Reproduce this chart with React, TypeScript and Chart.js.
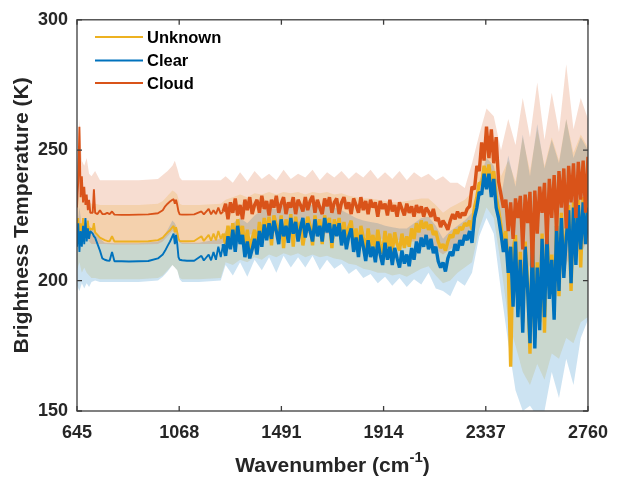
import React, { useEffect, useRef } from "react";
import { Chart, registerables } from "chart.js";

Chart.register(...registerables);

// Wavenumber grid for the mean spectra (cm-1)
const WAVENUMBER = [
  645, 650, 655, 660, 665, 670, 675, 680, 685, 690, 695, 700,
  710, 715, 720,
  730, 740, 750, 760, 770, 780, 790, 800,
  830, 860, 900, 940, 980,
  1000, 1010, 1020, 1030, 1040,
  1045, 1050, 1055, 1060, 1065, 1070,
  1080, 1100, 1130, 1160, 1170, 1190, 1200, 1210, 1220, 1230, 1240,
  1250, 1260, 1270, 1280, 1290, 1300, 1310, 1320, 1330, 1340,
  1350, 1360, 1370, 1380, 1390, 1400, 1410, 1420, 1430, 1440,
  1450, 1460, 1470, 1480, 1490, 1500, 1510, 1520, 1530, 1540,
  1550, 1560, 1570, 1580, 1590, 1600, 1610, 1620, 1630, 1640,
  1650, 1660, 1670, 1680, 1690, 1700, 1710, 1720, 1730, 1740,
  1750, 1760, 1770, 1780, 1790, 1800, 1810, 1820, 1830, 1840,
  1850, 1860, 1870, 1880, 1890, 1900, 1910, 1920, 1930, 1940,
  1950, 1960, 1970, 1980, 1990, 2000, 2010, 2020, 2030, 2040,
  2050, 2060, 2070, 2080, 2090, 2100, 2110, 2120, 2130, 2140,
  2150, 2160, 2170, 2180, 2190, 2200, 2210, 2220, 2230, 2240,
  2250, 2260, 2270, 2280, 2290, 2300, 2310, 2320, 2330, 2340,
  2350, 2360, 2370, 2380, 2390, 2400, 2410, 2420, 2430, 2440,
  2450, 2460, 2470, 2480, 2490, 2500, 2510, 2520, 2530, 2540,
  2550, 2560, 2570, 2580, 2590, 2600, 2610, 2620, 2630, 2640,
  2650, 2660, 2670, 2680, 2690, 2700, 2710, 2720, 2730, 2740,
  2750, 2760,
];

// Mean brightness temperature (K), unknown scenes
const UNKNOWN_MEAN = [
  218, 224, 215, 222, 216, 224, 217, 222, 219, 223, 218, 220,
  219.5, 222, 218.5,
  217.5, 216.5, 216, 215.5, 215.2, 215.1, 217, 215,
  215, 215, 215, 215.1, 215.5,
  216.5, 217.5, 218.5, 219.3, 220.5,
  221, 218.5, 220.5, 218.5, 216, 215.2,
  215.1, 215.1, 215.2, 217, 215.2, 217.5, 215.3, 218, 215.5, 219, 216,
  218, 214, 221, 215.5, 222, 214, 223.5, 217, 221, 212.5,
  219.5, 212, 216, 219.5, 213, 222.5, 216, 224, 218.5, 224.5,
  213.5, 225, 221.5, 217, 225, 212.5, 223.5, 218, 225.5, 213,
  224.5, 218, 222.5, 213.5, 219, 224.5, 221, 213.5, 225, 219,
  223.5, 214, 225, 221, 224, 212.5, 223.5, 219, 224, 215.5,
  222.5, 216, 220.5, 223, 214.5, 220, 212, 221, 216.5, 211.5,
  220, 213, 217.5, 211, 219.5, 214, 210.5, 219, 212.5, 218,
  211, 218.5, 214, 211.5, 218, 212.5, 217, 213, 220, 216,
  222, 218.5, 223, 220, 222.5, 219.5, 221.5, 217.5, 219, 215,
  212.5, 214, 211.5, 215, 217.5, 216.5, 219.5, 218, 220.5, 219.5,
  222, 221, 223, 219.5, 228, 232, 237.5, 237, 244, 239.5,
  244.5, 237, 242, 232, 227, 221, 213.5, 219, 206, 167,
  212, 217.5, 190, 211, 184, 215, 200, 172, 216.5, 178,
  207, 184, 218, 180, 220, 197, 210, 190, 223, 194,
  226, 204, 219, 229, 196, 230, 210, 231, 205, 232,
  217, 230,
];

// Mean brightness temperature (K), clear-sky scenes
const CLEAR_MEAN = [
  213, 222, 211, 219, 213, 221, 214, 224, 215, 220, 216, 219,
  218, 217, 216.5,
  214, 211.5, 208.5, 208, 207.7, 207.6, 211, 207.4,
  207.4, 207.3, 207.4, 207.5, 208.5,
  210, 211.5, 213.3, 215, 217,
  218, 214, 217.5, 214, 209, 208,
  207.8, 207.6, 207.6, 209.5, 207.7, 210, 207.8, 211, 208, 213, 209,
  214, 209.5, 217, 212, 219.5, 211, 221, 214, 217.5, 209,
  215, 208.5, 212, 216, 210, 219, 213, 221.5, 215.5, 222,
  216, 223, 219, 214, 223.5, 217, 221, 214.5, 224, 218,
  222.5, 215, 220, 224, 216.5, 222, 219, 215, 223.5, 217,
  221, 215, 224, 218.5, 222, 214.5, 221.5, 217, 222, 213.5,
  219.5, 212, 217, 220, 211, 216.5, 209, 217.5, 213, 207.5,
  215.5, 209, 213, 207, 215, 210, 206, 214.5, 208, 213,
  206, 212.5, 208.5, 205, 211.5, 206.5, 210, 205.5, 212.5, 208,
  215, 210.5, 216.5, 213, 217.5, 212, 216, 210.5, 213, 207.5,
  205, 207, 203.5, 208.5, 211, 209.5, 214, 211.5, 215.5, 213.5,
  217.5, 215.5, 219, 214.5, 224, 228, 234, 233, 241, 235,
  241, 232, 239, 228, 224, 218, 211, 216, 203, 213,
  190, 215, 186, 208, 180, 213, 197, 176, 214, 174,
  205, 181, 216, 186, 218, 193, 208, 185, 221, 196,
  224, 201, 216, 227, 199, 228, 206, 229, 212, 230,
  214, 228,
];

// Mean brightness temperature (K), cloudy scenes
const CLOUD_MEAN = [
  228, 238, 259, 232, 240, 230, 236, 229, 233, 227, 231, 226,
  226, 235, 226,
  225.5, 227, 225.5, 225.5, 226, 225.5, 226.5, 225.3,
  225.2, 225.2, 225.3, 225.4, 225.8,
  227, 228.5, 229.5, 230.3, 231,
  231.2, 229.5, 231, 229, 226.5, 225.4,
  225.3, 225.3, 225.4, 226.5, 225.4, 227.5, 225.4, 227, 225.5, 228, 225.6,
  226.5, 229.5, 223.5, 230, 226, 231.5, 225, 229, 223.5, 231,
  227, 232, 225.5, 229, 231, 226, 232.5, 227.5, 230.5, 225,
  231, 228, 232.5, 226, 229.5, 232, 225.5, 230, 228, 232,
  225.5, 231, 229, 226.5, 232, 227, 230.5, 232.5, 226, 231,
  228, 225.5, 231.5, 228.5, 232, 226, 230, 231.5, 225.5, 230,
  232, 227.5, 230, 225.5, 231.5, 229, 226, 232, 227, 230.5,
  225.5, 231, 228, 230, 224.5, 230.5, 227.5, 229.5, 225, 231,
  226.5, 229, 224.5, 230, 227.5, 225, 229.5, 226, 228.5, 224.5,
  229, 226, 228.5, 224.5, 228, 226.5, 224.5, 227.5, 223, 224,
  220.5, 223, 221.5, 219.5, 223, 225.5, 223.5, 226.5, 224, 226,
  225, 227.5, 228.5, 236, 235, 244, 242, 253, 246, 259,
  247, 258, 245, 255, 238, 233, 228, 231, 219, 230,
  216, 231.5, 224, 232.5, 212, 233, 222, 234, 205, 234.5,
  218, 236, 226, 237.5, 214, 239, 224, 240.5, 219, 242,
  228, 243, 220, 244, 230, 245, 224, 245.5, 231, 246,
  226, 247.5,
];

// Wavenumber grid for the spread envelopes (cm-1)
const BAND_WAVENUMBER = [
  645, 655, 665, 675, 685, 695, 705, 720, 740, 760, 800, 900, 980,
  1000, 1020, 1040, 1050, 1060, 1070, 1080, 1150, 1240,
  1260, 1290, 1320, 1350, 1380, 1410, 1440, 1470, 1500, 1530,
  1560, 1590, 1620, 1650, 1680, 1710, 1740, 1770, 1800, 1830,
  1860, 1890, 1920, 1950, 1980, 2010, 2040, 2070, 2100, 2130,
  2160, 2190, 2220, 2250, 2280, 2310, 2340, 2370, 2400, 2430,
  2460, 2490, 2520, 2550, 2580, 2610, 2640, 2670, 2700, 2730,
  2760,
];

// Upper / lower envelopes (K) for each scene type
const UNKNOWN_UPPER = [
  230, 234, 232, 233, 231, 230, 229.5, 229.5, 229, 229, 229, 229, 229.5,
  230.5, 232.5, 234.5, 234, 233, 229.5, 229, 229, 229.5,
  231, 232, 233, 232, 233.5, 233, 234, 233, 234, 233.5,
  234, 233, 234, 233.5, 234, 233, 233.5, 232.5, 232, 231.5,
  231.5, 231, 230.5, 230, 230, 230.5, 231, 231.5, 231.5, 229,
  226, 228, 229.5, 231, 234, 246, 254, 250, 240, 246,
  238, 255, 242, 258, 244, 255, 246, 262, 249, 256,
  251,
];
const UNKNOWN_LOWER = [
  204, 207, 203, 205, 203, 202, 201, 201, 200.5, 200.5, 200.5, 200.5, 201,
  202, 204, 206, 205, 204, 201, 200.5, 200.5, 201,
  207, 206, 208, 207, 209, 208, 210, 209, 210.5, 209.5,
  210.5, 209, 210, 209, 209.5, 208.5, 208, 206.5, 206, 204.5,
  204, 203, 203, 202, 202.5, 201.5, 203, 204.5, 205.5, 202,
  199, 200, 203, 205, 207, 220, 228, 224, 206, 185,
  175, 165, 160, 168, 162, 172, 170, 178, 176, 184,
  186,
];
const CLEAR_UPPER = [
  220, 228, 221, 224, 222, 221, 220, 219, 216, 214.5, 214.3, 214.3, 215,
  216.5, 219.5, 223, 222, 220, 215, 214.5, 214.5, 216,
  219, 222, 224, 222, 225, 227, 228, 227.5, 229, 228.5,
  229, 229.5, 229, 228.5, 229, 228, 227, 225.5, 224, 223,
  222.5, 222, 221, 220.5, 220, 220, 222, 224, 224.5, 221,
  216, 219, 221, 223, 226, 238, 247, 244, 232, 248,
  236, 256, 240, 260, 243, 254, 245, 262, 247, 255,
  250,
];
const CLEAR_LOWER = [
  198, 196, 199, 197, 199, 197.5, 199.5, 200, 199.5, 199.5, 199.5, 199.5, 200,
  201.5, 203.5, 206, 205, 204, 200.5, 199.5, 199.5, 200,
  206, 202, 207, 201.5, 208, 204, 209, 203, 209.5, 205,
  209, 205, 209.5, 204, 208, 204.5, 206.5, 202.5, 204.5, 201,
  202.5, 199, 201.5, 198, 201, 197.5, 200.5, 198.5, 203, 197,
  196, 194, 200, 198, 203, 217, 224, 218, 196, 176,
  158, 150, 152, 148, 150, 165, 155, 170, 160, 178,
  185,
];
const CLOUD_UPPER = [
  240, 262, 246, 244, 247, 241, 240, 242, 238.5, 238.5, 238.5, 238.5, 239,
  240.5, 242, 244, 246, 243, 239.5, 238.5, 238.5, 238.5,
  240, 237.5, 241.5, 238, 242, 239, 241, 238.5, 242.5, 239,
  241, 239.5, 242.5, 238.5, 241.5, 239.5, 242, 239, 241.5, 239.5,
  242.5, 239, 241.5, 239, 242, 238.5, 241.5, 239.5, 241, 238.5,
  240, 237.5, 237.5, 235.5, 245, 256, 266, 263, 250, 262,
  252, 270, 255, 276, 254, 272, 257, 283, 258, 270,
  262,
];
const CLOUD_LOWER = [
  216, 222, 218, 219, 217, 215, 214, 214, 214, 214, 213.8, 213.8, 214,
  215, 217, 219, 218, 217, 214.5, 214, 214, 214,
  215, 216.5, 217, 217.5, 218, 217.5, 218, 218.5, 218, 218.5,
  218, 218, 218.5, 218, 218, 217.5, 218, 217.5, 217, 217,
  216.5, 216, 216, 215.5, 215.5, 215, 215, 215, 214.5, 212,
  210, 212, 214, 215, 222, 232, 240, 238, 222, 205,
  210, 200, 206, 198, 208, 202, 211, 206, 214, 210,
  216,
];

const X_TICKS = [645, 1068, 1491, 1914, 2337, 2760];
const Y_TICKS = [150, 200, 250, 300];

const SERIES = [
  { label: "Unknown", rgb: "237,177,32", mean: UNKNOWN_MEAN, upper: UNKNOWN_UPPER, lower: UNKNOWN_LOWER },
  { label: "Clear", rgb: "0,114,189", mean: CLEAR_MEAN, upper: CLEAR_UPPER, lower: CLEAR_LOWER },
  { label: "Cloud", rgb: "217,83,25", mean: CLOUD_MEAN, upper: CLOUD_UPPER, lower: CLOUD_LOWER },
];

const FONT = "'Liberation Sans', Arial, Helvetica, sans-serif";
const AXIS_COLOR = "#262626";
// Channels beyond this are densely sampled and drawn heavier so the
// channel-to-channel scatter reads as a solid trace
const DENSE_FROM = 1245;

const pair = (xs: number[], ys: number[]) => xs.map((x, i) => ({ x, y: ys[i] }));

// Box, inward tick marks, axis titles and legend
const decorations = {
  id: "decorations",
  afterDraw(chart: any) {
    const { ctx, chartArea: a, scales } = chart;
    ctx.save();
    ctx.strokeStyle = "#3c3c3c";
    ctx.lineWidth = 1.3;
    ctx.strokeRect(a.left, a.top, a.right - a.left, a.bottom - a.top);
    const tl = 5;
    ctx.beginPath();
    X_TICKS.forEach((v) => {
      const px = scales.x.getPixelForValue(v);
      ctx.moveTo(px, a.bottom);
      ctx.lineTo(px, a.bottom - tl);
      ctx.moveTo(px, a.top);
      ctx.lineTo(px, a.top + tl);
    });
    Y_TICKS.forEach((v) => {
      const py = scales.y.getPixelForValue(v);
      ctx.moveTo(a.left, py);
      ctx.lineTo(a.left + tl, py);
      ctx.moveTo(a.right, py);
      ctx.lineTo(a.right - tl, py);
    });
    ctx.stroke();

    // x-axis title with superscript
    ctx.fillStyle = AXIS_COLOR;
    ctx.textBaseline = "alphabetic";
    ctx.textAlign = "left";
    const mainFont = `bold 21px ${FONT}`;
    const supFont = `bold 15px ${FONT}`;
    const t1 = "Wavenumber (cm";
    const t2 = "-1";
    const t3 = ")";
    ctx.font = mainFont;
    const w1 = ctx.measureText(t1).width;
    const w3 = ctx.measureText(t3).width;
    ctx.font = supFont;
    const w2 = ctx.measureText(t2).width;
    const total = w1 + w2 + w3;
    const cx = (a.left + a.right) / 2;
    const x0 = cx - total / 2;
    const base = 472;
    ctx.font = mainFont;
    ctx.fillText(t1, x0, base);
    ctx.font = supFont;
    ctx.fillText(t2, x0 + w1, base - 10);
    ctx.font = mainFont;
    ctx.fillText(t3, x0 + w1 + w2, base);

    // y-axis title
    ctx.save();
    ctx.translate(28, (a.top + a.bottom) / 2);
    ctx.rotate(-Math.PI / 2);
    ctx.textAlign = "center";
    ctx.font = mainFont;
    ctx.fillText("Brightness Temperature (K)", 0, 0);
    ctx.restore();

    // legend
    const rows = [37, 60.5, 83];
    ctx.font = `bold 16.5px ${FONT}`;
    ctx.textBaseline = "middle";
    ctx.textAlign = "left";
    SERIES.forEach((s, i) => {
      ctx.strokeStyle = `rgb(${s.rgb})`;
      ctx.lineWidth = 2;
      ctx.beginPath();
      ctx.moveTo(95, rows[i]);
      ctx.lineTo(143, rows[i]);
      ctx.stroke();
      ctx.fillStyle = "#000";
      ctx.fillText(s.label, 147, rows[i] + 1);
    });
    ctx.restore();
  },
};

export default function App() {
  const ref = useRef<HTMLCanvasElement>(null);

  useEffect(() => {
    const lines = SERIES.map((s, i) => ({
      label: s.label,
      data: pair(WAVENUMBER, s.mean),
      borderColor: `rgb(${s.rgb})`,
      backgroundColor: `rgb(${s.rgb})`,
      borderWidth: 1.9,
      borderJoinStyle: "bevel",
      pointRadius: 0,
      fill: false,
      tension: 0,
      order: 3 - i,
      segment: {
        borderWidth: (c: any) => (c.p0.parsed.x >= DENSE_FROM ? 3.4 : 1.9),
      },
    }));
    const bands: any[] = [];
    SERIES.forEach((s, i) => {
      const hiIndex = 3 + bands.length;
      bands.push({
        label: `${s.label} upper`,
        data: pair(BAND_WAVENUMBER, s.upper),
        borderColor: "rgba(0,0,0,0)",
        borderWidth: 0,
        pointRadius: 0,
        fill: false,
        order: 20 - i * 2,
      });
      bands.push({
        label: `${s.label} lower`,
        data: pair(BAND_WAVENUMBER, s.lower),
        borderColor: "rgba(0,0,0,0)",
        borderWidth: 0,
        pointRadius: 0,
        fill: hiIndex,
        backgroundColor: `rgba(${s.rgb},0.2)`,
        order: 19 - i * 2,
      });
    });

    const chart = new Chart(ref.current as HTMLCanvasElement, {
      type: "line",
      data: { datasets: [...lines, ...bands] as any },
      options: {
        responsive: false,
        animation: false,
        layout: { padding: { left: 0, top: 11, right: 21, bottom: 0 } },
        plugins: { legend: { display: false }, tooltip: { enabled: false } },
        scales: {
          x: {
            type: "linear",
            min: 645,
            max: 2760,
            afterFit: (scale: any) => {
              scale.height = 70;
            },
            afterBuildTicks: (scale: any) => {
              scale.ticks = X_TICKS.map((v) => ({ value: v }));
            },
            ticks: {
              padding: 11,
              color: AXIS_COLOR,
              font: { family: FONT, size: 18, weight: "bold" },
              maxRotation: 0,
              autoSkip: false,
              callback: (v: any) => String(v),
            },
            grid: { display: false, drawTicks: false },
            border: { display: false },
          },
          y: {
            type: "linear",
            min: 150,
            max: 300,
            afterFit: (scale: any) => {
              scale.width = 77;
            },
            afterBuildTicks: (scale: any) => {
              scale.ticks = Y_TICKS.map((v) => ({ value: v }));
            },
            ticks: {
              padding: 9,
              color: AXIS_COLOR,
              font: { family: FONT, size: 18, weight: "bold" },
              callback: (v: any) => String(v),
            },
            grid: { display: false, drawTicks: false },
            border: { display: false },
          },
        },
      },
      plugins: [decorations],
    } as any);
    return () => chart.destroy();
  }, []);

  return (
    <div style={{ position: "fixed", left: 0, top: 0, width: 619, height: 481, background: "#fff" }}>
      <canvas ref={ref} width={619} height={481} style={{ display: "block", width: 619, height: 481 }} />
    </div>
  );
}
